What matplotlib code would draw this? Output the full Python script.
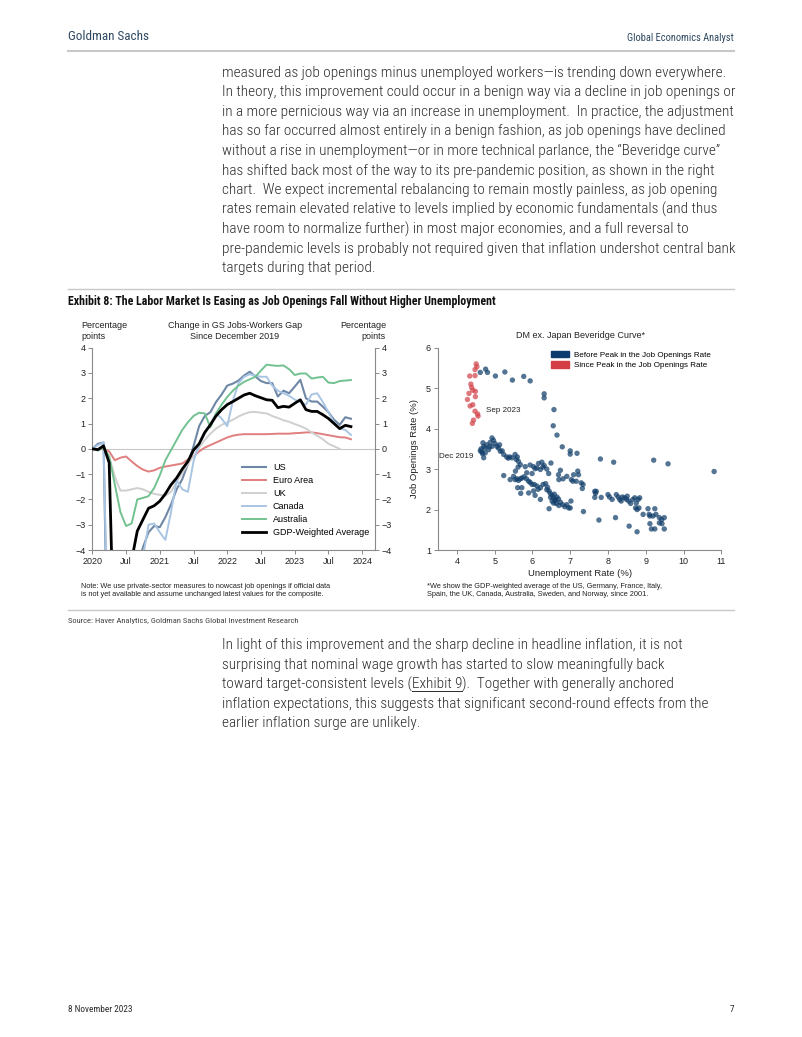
import numpy as np
import matplotlib
matplotlib.use("Agg")
import matplotlib.pyplot as plt
from matplotlib.lines import Line2D
from matplotlib.patches import Patch
from matplotlib.font_manager import FontProperties, fontManager

W, H = 802, 1037

# ---- left chart: change in GS jobs-workers gap since Dec 2019 (pp), monthly from Jan 2020
months = np.arange(47)
us = [0.0, 0.2, 0.25, -12.0, -10.0, -8.0, -6.5, -5.5, -4.8, -3.9,
      -3.3, -3.05, -3.1, -2.7, -2.2, -1.6, -1.2, -0.6, 0.1, 0.9,
      1.3, 1.45, 1.85, 2.15, 2.5, 2.58, 2.7, 2.9, 3.05, 2.86,
      2.68, 2.6, 2.6, 2.07, 2.3, 2.2, 2.46, 2.73, 2.0, 1.87,
      1.87, 1.67, 1.45, 1.15, 0.95, 1.25, 1.19]
euro_area = [0.0, -0.02, 0.0, -0.1, -0.45, -0.35, -0.3, -0.5, -0.68, -0.82,
             -0.9, -0.85, -0.75, -0.7, -0.66, -0.62, -0.58, -0.42, -0.3, -0.1,
             0.05, 0.15, 0.25, 0.35, 0.45, 0.52, 0.56, 0.58, 0.58, 0.58,
             0.58, 0.58, 0.59, 0.6, 0.6, 0.6, 0.62, 0.63, 0.65, 0.65,
             0.62, 0.58, 0.54, 0.5, 0.46, 0.45, 0.38]
uk = [0.0, 0.0, 0.05, -0.3, -1.1, -1.65, -1.65, -1.6, -1.55, -1.6,
      -1.7, -1.78, -1.82, -1.85, -1.7, -1.3, -0.95, -0.6, -0.3, 0.05,
      0.35, 0.6, 0.8, 0.95, 1.05, 1.15, 1.28, 1.38, 1.45, 1.46,
      1.43, 1.4, 1.3, 1.22, 1.13, 1.07, 0.98, 0.9, 0.8, 0.65,
      0.52, 0.38, 0.2, 0.1, 0.0, np.nan, np.nan]
canada = [0.0, 0.15, 0.25, -10.0, -12.0, -10.0, -8.0, -6.5, -5.5, -4.3,
          -3.0, -2.95, -3.3, -3.6, -2.5, -1.25, -1.6, -1.7, -0.5, 0.2,
          0.6, 1.0, 1.4, 1.2, 0.9, 1.9, 2.6, 2.85, 2.95, 2.9,
          2.85, 2.85, 2.5, 2.3, 2.2, 2.1, 1.95, 1.85, 1.75, 2.15,
          2.2, 1.85, 1.45, 1.05, 0.8, 0.75, 0.55]
australia = [0.0, -0.07, 0.05, -0.3, -1.4, -2.5, -3.05, -2.95, -2.0, -1.94,
             -1.87, -1.55, -1.05, -0.45, -0.05, 0.35, 0.75, 1.05, 1.3, 1.43,
             1.4, 0.85, 1.4, 1.75, 2.05, 2.3, 2.5, 2.65, 2.75, 2.85,
             3.1, 3.33, 3.3, 3.28, 3.3, 3.15, 2.92, 2.98, 2.98, 2.78,
             2.82, 2.85, 2.62, 2.6, 2.68, 2.7, 2.72]
gdp_weighted = [0.0, -0.03, 0.12, -0.55, -9.0, -7.5, -5.8, -4.4, -3.25, -2.8,
                -2.35, -2.25, -2.07, -1.78, -1.42, -1.15, -0.8, -0.5, -0.05, 0.2,
                0.65, 0.95, 1.3, 1.55, 1.75, 1.87, 2.0, 2.13, 2.2, 2.1,
                2.02, 1.94, 1.92, 1.63, 1.68, 1.65, 1.8, 1.94, 1.55, 1.48,
                1.48, 1.35, 1.2, 1.0, 0.8, 0.93, 0.88]
x_ticks = [2020, 2020.5, 2021, 2021.5, 2022, 2022.5, 2023, 2023.5, 2024]
x_ticklabels = ["2020", "Jul", "2021", "Jul", "2022", "Jul", "2023", "Jul", "2024"]

# ---- right chart: Beveridge curve (unemployment %, job openings %)
before_x = [4.62, 4.81, 4.76, 5.02, 5.27, 5.47, 5.77, 5.94, 6.31, 6.31, 6.57, 6.55, 6.65, 6.79,
            7.0, 7.0, 7.18, 7.8, 8.15, 9.21, 9.59, 10.81,
            4.93, 4.97, 4.88, 5.01, 5.06, 4.79, 4.71, 4.64, 4.66, 4.75, 4.71, 4.84, 5.15, 5.24,
            5.32, 5.46, 5.54, 5.57, 5.63, 5.68, 4.93, 4.69, 5.13, 4.62, 4.68, 4.74, 4.86, 5.10,
            5.20, 5.40, 5.60, 5.36,
            5.24, 5.41, 5.50, 5.54, 5.59, 5.63, 5.68, 5.72, 5.78, 5.84, 5.90, 5.61, 5.72, 5.69,
            5.81, 5.94, 6.03, 6.12, 6.16, 6.25, 6.31, 6.38, 6.49, 6.43, 6.21, 6.07, 5.99, 5.85,
            5.55, 5.62, 6.28,
            5.94, 5.99, 6.05, 6.12, 6.21, 6.28, 6.35, 6.38, 6.44, 6.47, 6.52, 6.56, 6.61, 6.65,
            6.69, 6.74, 6.80, 6.86, 6.91, 6.96, 7.0, 7.02, 6.44, 6.21, 6.07, 6.03, 5.90, 6.56,
            6.63, 6.52, 6.58, 6.48, 6.70, 6.60, 6.40, 6.15,
            6.70, 6.81, 6.91, 7.03, 7.16, 7.22, 7.09, 6.69, 6.74, 7.20,
            7.07, 7.29, 7.34, 7.32, 7.35, 7.65, 7.69, 7.67, 7.65, 7.82, 7.76, 8.0, 8.04, 8.11,
            8.22, 8.27, 8.31, 8.35, 8.38, 8.44, 8.49, 8.51, 8.55, 8.60, 8.66, 8.71, 8.75, 8.80,
            8.84, 8.73, 8.77, 8.82, 8.20, 8.56, 8.77, 8.93, 9.06, 9.09, 9.11, 9.24, 9.19, 9.27,
            9.36, 9.42, 9.36, 9.43, 9.49, 9.11, 9.15, 9.24, 9.49]
before_y = [5.39, 5.39, 5.47, 5.30, 5.40, 5.20, 5.29, 5.18, 4.86, 4.76, 4.47, 4.07, 3.84, 3.55,
            3.45, 3.37, 3.39, 3.25, 3.17, 3.22, 3.13, 2.94,
            3.77, 3.71, 3.66, 3.63, 3.56, 3.60, 3.56, 3.50, 3.42, 3.40, 3.28, 3.48, 3.44, 3.36,
            3.30, 3.28, 3.36, 3.24, 3.19, 3.11, 3.56, 3.65, 3.60, 3.45, 3.38, 3.52, 3.55, 3.52,
            3.45, 3.30, 3.30, 3.27,
            2.84, 2.74, 2.82, 2.74, 2.76, 2.72, 2.76, 2.78, 2.81, 2.76, 2.70, 2.54, 2.54, 2.40,
            3.06, 3.10, 3.06, 3.03, 3.14, 3.17, 3.09, 3.00, 3.15, 2.89, 2.99, 3.01, 2.89, 2.91,
            2.95, 3.05, 3.05,
            2.67, 2.62, 2.62, 2.58, 2.54, 2.62, 2.64, 2.49, 2.46, 2.40, 2.35, 2.29, 2.25, 2.31,
            2.26, 2.18, 2.12, 2.07, 2.12, 2.04, 2.04, 2.21, 2.02, 2.25, 2.35, 2.46, 2.41, 2.16,
            2.15, 2.21, 2.38, 2.30, 2.10, 2.22, 2.55, 2.50,
            2.74, 2.76, 2.82, 2.74, 2.70, 2.86, 2.86, 2.86, 2.97, 2.95,
            2.70, 2.66, 2.62, 2.52, 1.95, 2.45, 2.45, 2.40, 2.30, 2.30, 1.74, 2.37, 2.31, 2.25,
            2.37, 2.31, 2.25, 2.21, 2.31, 2.29, 2.25, 2.33, 2.21, 2.15, 2.25, 2.29, 2.16, 2.25,
            2.29, 2.04, 2.00, 2.04, 1.80, 1.59, 1.45, 1.88, 2.02, 1.88, 1.84, 2.02, 1.84, 1.88,
            1.80, 1.75, 1.67, 1.65, 1.80, 1.65, 1.52, 1.52, 1.52]
since_x = [4.51, 4.53, 4.48, 4.34, 4.48, 4.37, 4.39, 4.42, 4.49, 4.32, 4.49, 4.28, 4.42,
           4.35, 4.48, 4.55, 4.56, 4.44, 4.41]
since_y = [5.60, 5.53, 5.46, 5.30, 5.31, 5.10, 5.02, 4.95, 4.92, 4.87, 4.79, 4.72, 4.59,
           4.56, 4.43, 4.36, 4.31, 4.21, 4.13]

para1 = [
    "measured as job openings minus unemployed workers\u2014is trending down everywhere.",
    "In theory, this improvement could occur in a benign way via a decline in job openings or",
    "in a more pernicious way via an increase in unemployment.  In practice, the adjustment",
    "has so far occurred almost entirely in a benign fashion, as job openings have declined",
    "without a rise in unemployment\u2014or in more technical parlance, the \u201cBeveridge curve\u201d",
    "has shifted back most of the way to its pre-pandemic position, as shown in the right",
    "chart.  We expect incremental rebalancing to remain mostly painless, as job opening",
    "rates remain elevated relative to levels implied by economic fundamentals (and thus",
    "have room to normalize further) in most major economies, and a full reversal to",
    "pre-pandemic levels is probably not required given that inflation undershot central bank",
    "targets during that period.",
]
para2 = [
    "In light of this improvement and the sharp decline in headline inflation, it is not",
    "surprising that nominal wage growth has started to slow meaningfully back",
    None,
    "inflation expectations, this suggests that significant second-round effects from the",
    "earlier inflation surge are unlikely.",
]
exhibit_title = "Exhibit 8: The Labor Market Is Easing as Job Openings Fall Without Higher Unemployment"
source_text = "Source: Haver Analytics, Goldman Sachs Global Investment Research"

SANS = ['Liberation Sans', 'DejaVu Sans']
installed = {f.name for f in fontManager.ttflist}
narrow_pick = [n for n in ('Roboto Condensed', 'Liberation Sans Narrow', 'Open Sans Condensed')
               if n in installed]
NARROW = narrow_pick[:1] + SANS
NAVY = '#2e4862'
BODY = '#2b2b2b'
GRAY = '#8a8a8a'
LIGHT = 'light'


def fx(x):
    return x / W


def fy(y):
    return 1 - y / H


fig = plt.figure(figsize=(W / 100, H / 100), dpi=100)
fig.patch.set_facecolor('white')
renderer = fig.canvas.get_renderer()


def fit_size(s, target_px, weight='normal', base=10.0):
    # font size giving the same printed width as in the page
    w, _, _ = renderer.get_text_width_height_descent(
        s, FontProperties(family=NARROW, size=base, weight=weight), ismath=False)
    return base * target_px / w


body_size = fit_size(para1[0], 505, LIGHT)

# header / rules
fig.text(fx(68), fy(37), "Goldman Sachs", fontsize=fit_size("Goldman Sachs", 82),
         color=NAVY, family=NARROW, va='center')
fig.text(fx(734), fy(38), "Global Economics Analyst",
         fontsize=fit_size("Global Economics Analyst", 106), color=NAVY, family=NARROW,
         ha='right', va='center')
for yy, lw in ((50.5, 1.5), (289, 1.0), (610, 1.0)):
    fig.add_artist(Line2D([fx(68), fx(734)], [fy(yy), fy(yy)], color='#c8c8c8', lw=lw))

for i, line in enumerate(para1):
    fig.text(fx(222), fy(72.7 + i * 19.56), line, fontsize=body_size, family=NARROW,
             weight=LIGHT, color=BODY, va='center')

fig.text(fx(68), fy(302), exhibit_title, fontsize=fit_size(exhibit_title, 427, 'bold'),
         family=NARROW, weight='bold', color='#111111', va='center')
fig.text(fx(68), fy(620.7), source_text, fontsize=fit_size(source_text, 229),
         family=NARROW, color='#444444', va='center')

for i, line in enumerate(para2):
    yy = 645.3 + i * 19.5
    if line is not None:
        fig.text(fx(222), fy(yy), line, fontsize=body_size, family=NARROW, weight=LIGHT,
                 color=BODY, va='center')
        continue
    # line with underlined link
    t1 = fig.text(fx(222), fy(yy), "toward target-consistent levels (", fontsize=body_size,
                  family=NARROW, weight=LIGHT, color=BODY, va='center')
    b1 = t1.get_window_extent(renderer)
    t2 = fig.text(b1.x1 / W, fy(yy), "Exhibit 9", fontsize=body_size, family=NARROW,
                  weight=LIGHT, color=BODY, va='center')
    b2 = t2.get_window_extent(renderer)
    fig.add_artist(Line2D([b2.x0 / W, b2.x1 / W], [b2.y0 / H + 0.0005, b2.y0 / H + 0.0005],
                          color=BODY, lw=0.7))
    fig.text(b2.x1 / W, fy(yy), ").  Together with generally anchored", fontsize=body_size,
             family=NARROW, weight=LIGHT, color=BODY, va='center')

foot_size = fit_size("8 November 2023", 64)
fig.text(fx(68), fy(1010), "8 November 2023", fontsize=foot_size, family=NARROW, color=BODY,
         va='center')
fig.text(fx(734), fy(1010), "7", fontsize=foot_size, family=NARROW, color=BODY, va='center',
         ha='right')

# ---------------- left chart
ax1 = fig.add_axes([fx(92.3), fy(550), (375 - 92.3) / W, (550 - 347.7) / H])
xs = 2020 + months / 12
ax1.axhline(0, color='#c8c8c8', lw=0.8, zorder=1)
series = [
    ("US", us, '#6f87a6', 1.5),
    ("Euro Area", euro_area, '#e07f7f', 1.4),
    ("UK", uk, '#cfcfcf', 1.4),
    ("Canada", canada, '#a9c5e4', 1.4),
    ("Australia", australia, '#72c291', 1.4),
    ("GDP-Weighted Average", gdp_weighted, '#000000', 2.0),
]
for name, vals, col, lw in series:
    ax1.plot(xs, vals, color=col, lw=lw, label=name, zorder=3 if name.startswith("GDP") else 2)
ax1.set_xlim(2020, 2024.19)
ax1.set_ylim(-4, 4)
ax1.set_yticks(range(-4, 5))
ax1.set_xticks(x_ticks)
ax1.set_xticklabels(x_ticklabels)
for s in ('left', 'right', 'bottom'):
    ax1.spines[s].set_color(GRAY)
    ax1.spines[s].set_linewidth(0.8)
ax1.spines['top'].set_visible(False)
ax1.tick_params(axis='y', left=True, right=True, labelleft=True, labelright=True)
ax1.tick_params(direction='out', length=3, width=0.7, color=GRAY, labelsize=6.5,
                labelcolor='#222222', pad=2)
for lab in ax1.get_xticklabels() + ax1.get_yticklabels():
    lab.set_family(SANS)
ax1.legend(loc='upper left', bbox_to_anchor=(0.53, 0.43), frameon=False,
           handlelength=2.6, handletextpad=0.8, labelspacing=0.45, borderaxespad=0, borderpad=0,
           prop={'family': SANS, 'size': 6.5})

fig.text(fx(235), fy(331), "Change in GS Jobs-Workers Gap\nSince December 2019", fontsize=6.5,
         family=SANS, ha='center', va='center', color='#222222', linespacing=1.15)
fig.text(fx(81.7), fy(331), "Percentage\npoints", fontsize=6.5, family=SANS, ha='left', va='center',
         color='#222222', linespacing=1.15)
fig.text(fx(386), fy(331), "Percentage\npoints", fontsize=6.5, family=SANS, ha='right', va='center',
         color='#222222', linespacing=1.15, multialignment='right')
fig.text(fx(81), fy(591), "Note: We use private-sector measures to nowcast job openings if official data\n"
         "is not yet available and assume unchanged latest values for the composite.",
         fontsize=5.3, family=SANS, ha='left', va='center', color='#222222', linespacing=1.2)

# ---------------- right chart
ax2 = fig.add_axes([fx(438), fy(550), (721.3 - 438) / W, (550 - 347.7) / H])
ax2.scatter(before_x, before_y, s=15, color='#123f6b', alpha=0.72, edgecolors='none', zorder=2)
ax2.scatter(since_x, since_y, s=15, color='#d2444b', alpha=0.72, edgecolors='none', zorder=3)
ax2.set_xlim(3.5, 11)
ax2.set_ylim(1, 6)
ax2.set_xticks(range(4, 12))
ax2.set_yticks(range(1, 7))
for s in ('top', 'right'):
    ax2.spines[s].set_visible(False)
for s in ('left', 'bottom'):
    ax2.spines[s].set_color(GRAY)
    ax2.spines[s].set_linewidth(0.8)
ax2.tick_params(direction='out', length=3, width=0.7, color=GRAY, labelsize=6.5,
                labelcolor='#222222', pad=2)
for lab in ax2.get_xticklabels() + ax2.get_yticklabels():
    lab.set_family(SANS)
ax2.set_xlabel("Unemployment Rate (%)", fontsize=6.8, family=SANS, labelpad=2, color='#222222')
ax2.set_ylabel("Job Openings Rate (%)", fontsize=6.8, family=SANS, labelpad=5, color='#222222')
ax2.annotate("Sep 2023", (4.77, 4.44), fontsize=5.8, family=SANS, va='center', ha='left', color='#222222')
ax2.annotate("Dec 2019", (4.43, 3.31), fontsize=5.8, family=SANS, va='center', ha='right', color='#222222')
handles = [Patch(color='#0d3c6e', label="Before Peak in the Job Openings Rate"),
           Patch(color='#d43f46', label="Since Peak in the Job Openings Rate")]
ax2.legend(handles=handles, loc='upper left', bbox_to_anchor=(0.40, 0.985), frameon=False,
           handlelength=2.2, handleheight=0.9, handletextpad=0.6, labelspacing=0.3,
           borderaxespad=0, borderpad=0, prop={'family': SANS, 'size': 5.8})
fig.text(fx(580), fy(336), "DM ex. Japan Beveridge Curve*", fontsize=6.5, family=SANS, ha='center',
         va='center', color='#222222')
fig.text(fx(427), fy(591), "*We show the GDP-weighted average of the US, Germany, France, Italy,\n"
         "Spain, the UK, Canada, Australia, Sweden, and Norway, since 2001.",
         fontsize=5.3, family=SANS, ha='left', va='center', color='#222222', linespacing=1.2)

fig.savefig("out.png", dpi=100, facecolor='white')
